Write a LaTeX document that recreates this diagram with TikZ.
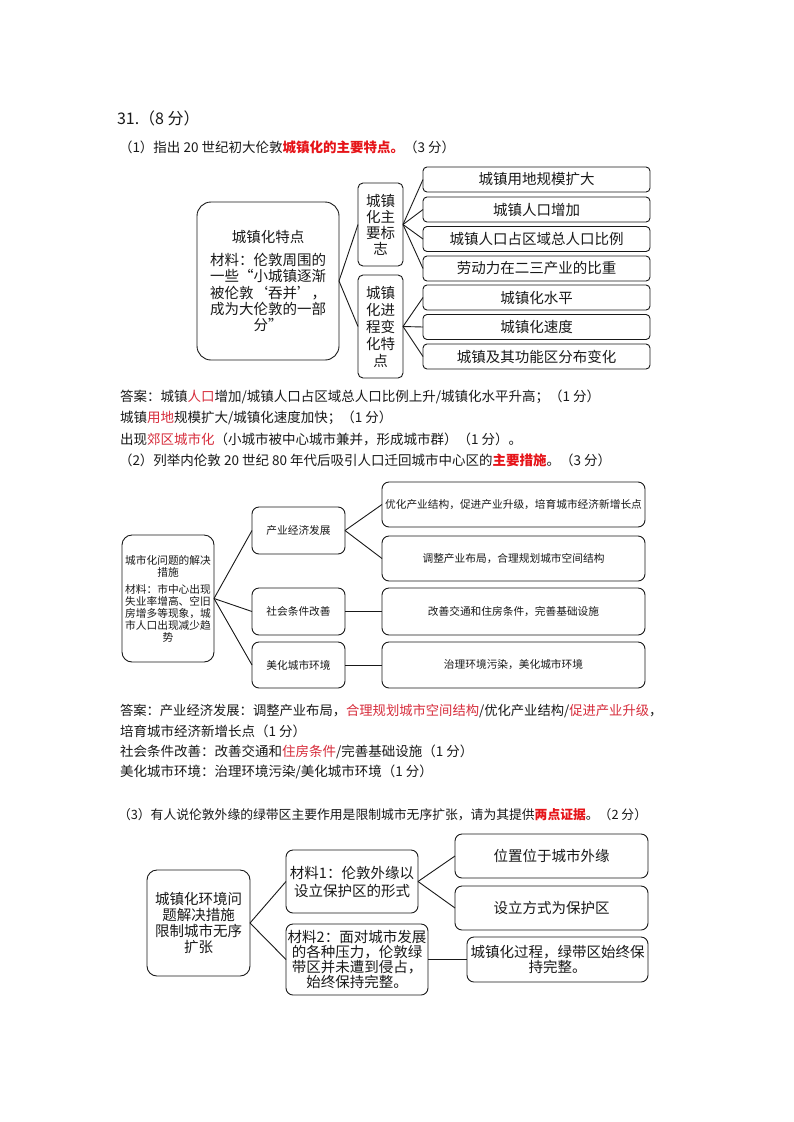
\documentclass[tikz,border=0pt]{standalone}
\usepackage{fontspec}
\setmainfont{Noto Sans CJK SC}
\definecolor{ink}{RGB}{25,25,25}
\definecolor{hired}{RGB}{230,20,25}
\definecolor{ansred}{RGB}{215,45,60}
\newcommand{\fsz}[2]{\fontsize{#1}{#2}\selectfont}
\begin{document}
\begin{tikzpicture}[x=1pt,y=-1pt,
  txt/.style={anchor=west,inner sep=0pt,outer sep=0pt,font=\fsz{13.5}{16},text=ink},
  box/.style={draw=ink,line width=0.9pt,inner sep=0pt,outer sep=0pt,align=center,text=ink},
  link/.style={draw=ink,line width=0.9pt},
  rA/.style={box,rounded corners=4pt,minimum width=227pt,minimum height=25pt,font=\fsz{14.5}{16}},
  mB/.style={box,rounded corners=7pt,minimum width=93pt,font=\fsz{10.7}{12}},
  rB/.style={box,rounded corners=7pt,minimum width=263pt,font=\fsz{10.7}{12}},
  rC/.style={box,rounded corners=7pt,minimum height=44pt,font=\fsz{14.5}{15}}]
\useasboundingbox[fill=white] (0,0) rectangle (794,1122);

% header
\node[txt,font=\fsz{16}{18}] (t31) at (117,118) {31.（8 分）};
\node[txt] (q1) at (119,147) {（1）指出 20 世纪初大伦敦\textcolor{hired}{\bfseries 城镇化的主要特点。}（3 分）};

% diagram 1
\node[box,rounded corners=14pt,minimum width=142pt,minimum height=158pt,font=\fsz{14.5}{16.3}] (L1) at (268,281)
  {城镇化特点\\[7pt]材料：伦敦周围的\\一些“小城镇逐渐\\被伦敦‘吞并’，\\成为大伦敦的一部\\分”};
\node[box,rounded corners=5pt,minimum width=45pt,minimum height=83pt,font=\fsz{14.5}{16}] (M1) at (380.5,224.5) {城镇\\化主\\要标\\志};
\node[box,rounded corners=5pt,minimum width=45pt,minimum height=103pt,font=\fsz{14.5}{17}] (M2) at (380.5,326.5) {城镇\\化进\\程变\\化特\\点};
\node[rA] (R1) at (536.5,179.5) {城镇用地规模扩大};
\node[rA] (R2) at (536.5,209.5) {城镇人口增加};
\node[rA] (R3) at (536.5,239) {城镇人口占区域总人口比例};
\node[rA] (R4) at (536.5,268.5) {劳动力在二三产业的比重};
\node[rA] (R5) at (536.5,297.5) {城镇化水平};
\node[rA] (R6) at (536.5,327) {城镇化速度};
\node[rA] (R7) at (536.5,356.5) {城镇及其功能区分布变化};
\draw[link] (L1.east) -- (M1.west);
\draw[link] (L1.east) -- (M2.west);
\foreach \r in {R1,R2,R3,R4} \draw[link] (M1.east) -- (\r.west);
\foreach \r in {R5,R6,R7} \draw[link] (M2.east) -- (\r.west);

% answers 1
\node[txt] (a1) at (120,397) {答案：城镇\textcolor{ansred}{人口}增加/城镇人口占区域总人口比例上升/城镇化水平升高；（1 分）};
\node[txt] (a2) at (120,418) {城镇\textcolor{ansred}{用地}规模扩大/城镇化速度加快；（1 分）};
\node[txt] (a3) at (120,439) {出现\textcolor{ansred}{郊区城市化}（小城市被中心城市兼并，形成城市群）（1 分）。};
\node[txt] (q2) at (119,460) {（2）列举内伦敦 20 世纪 80 年代后吸引人口迁回城市中心区的\textcolor{hired}{\bfseries 主要措施}。（3 分）};

% diagram 2
\node[box,rounded corners=10pt,minimum width=92pt,minimum height=127pt,font=\fsz{10.7}{12}] (L2) at (168,598.5)
  {城市化问题的解决\\措施\\[5pt]材料：市中心出现\\失业率增高、空旧\\房增多等现象，城\\市人口出现减少趋\\势};
\node[mB,minimum height=47pt] (M21) at (298.5,530.5) {产业经济发展};
\node[mB,minimum height=47pt] (M22) at (298.5,611.5) {社会条件改善};
\node[mB,minimum height=46pt] (M23) at (298.5,665) {美化城市环境};
\node[rB,minimum height=45pt] (R21) at (513.5,504.5) {优化产业结构，促进产业升级，培育城市经济新增长点};
\node[rB,minimum height=45pt] (R22) at (513.5,558.5) {调整产业布局，合理规划城市空间结构};
\node[rB,minimum height=47pt] (R23) at (513.5,611.5) {改善交通和住房条件，完善基础设施};
\node[rB,minimum height=46pt] (R24) at (513.5,665) {治理环境污染，美化城市环境};
\foreach \m in {M21,M22,M23} \draw[link] (L2.east) -- (\m.west);
\draw[link] (M21.east) -- (R21.west);
\draw[link] (M21.east) -- (R22.west);
\draw[link] (M22.east) -- (R23.west);
\draw[link] (M23.east) -- (R24.west);

% answers 2
\node[txt,font=\fsz{13.3}{16}] (b1) at (120,711) {答案：产业经济发展：调整产业布局，\textcolor{ansred}{合理规划城市空间结构}/优化产业结构/\textcolor{ansred}{促进产业升级}，};
\node[txt] (b2) at (120,731) {培育城市经济新增长点（1 分）};
\node[txt] (b3) at (120,752) {社会条件改善：改善交通和\textcolor{ansred}{住房条件}/完善基础设施（1 分）};
\node[txt] (b4) at (120,772) {美化城市环境：治理环境污染/美化城市环境（1 分）};
\node[txt,font=\fsz{12.8}{15}] (q3) at (118,815) {（3）有人说伦敦外缘的绿带区主要作用是限制城市无序扩张，请为其提供\textcolor{hired}{\bfseries 两点证据}。（2 分）};

% diagram 3
\node[box,rounded corners=10pt,minimum width=103pt,minimum height=106pt,font=\fsz{14.5}{16}] (L3) at (198.5,923)
  {城镇化环境问\\题解决措施\\限制城市无序\\扩张};
\node[box,rounded corners=7pt,minimum width=132pt,minimum height=63pt,font=\fsz{14.5}{18}] (M31) at (352,881.5) {材料1：伦敦外缘以\\设立保护区的形式};
\node[box,rounded corners=7pt,minimum width=142pt,minimum height=71pt,font=\fsz{14.5}{15}] (M32) at (357,959.5) {材料2：面对城市发展\\的各种压力，伦敦绿\\带区并未遭到侵占，\\始终保持完整。};
\node[rC,minimum width=193pt] (R31) at (551.5,856) {位置位于城市外缘};
\node[rC,minimum width=193pt] (R32) at (551.5,908) {设立方式为保护区};
\node[rC,minimum width=181pt,minimum height=45pt] (R33) at (557.5,959.5) {城镇化过程，绿带区始终保\\持完整。};
\draw[link] (L3.east) -- (M31.west);
\draw[link] (L3.east) -- (M32.west);
\draw[link] (M31.east) -- (R31.west);
\draw[link] (M31.east) -- (R32.west);
\draw[link] (M32.east) -- (R33.west);
\end{tikzpicture}
\end{document}
